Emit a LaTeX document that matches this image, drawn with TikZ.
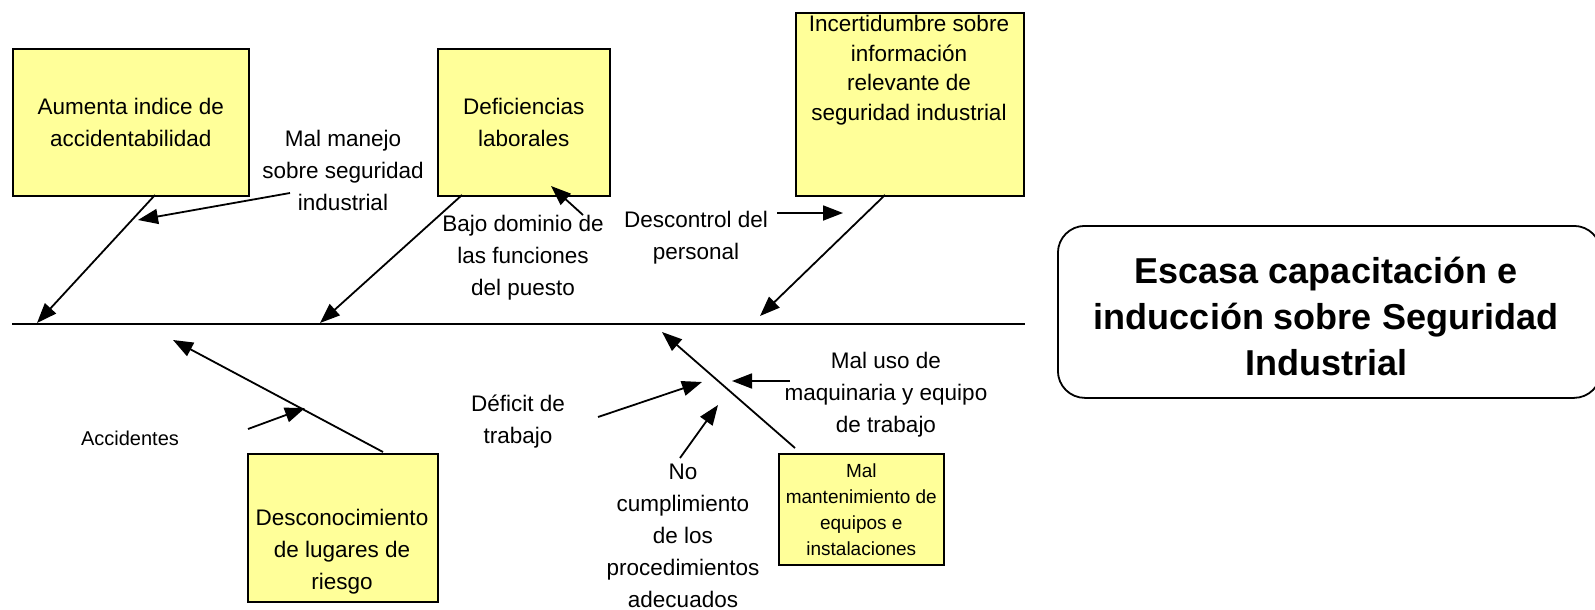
\documentclass[tikz,border=0pt]{standalone}
\usepackage{fontspec}
\setmainfont{Liberation Sans}
\usetikzlibrary{arrows.meta}
\definecolor{boxyellow}{RGB}{255,255,153}
\tikzset{
  ybox/.style={draw=black, line width=1.6pt, fill=boxyellow, inner sep=0pt, anchor=north west, align=center, font=\fontsize{22.5}{32}\selectfont},
  lab/.style={align=center, inner sep=0pt, font=\fontsize{22.5}{32}\selectfont},
  arr/.style={line width=1.8pt, -{Triangle[length=20pt,width=15pt]}},
  spine/.style={line width=1.8pt}
}
\begin{document}
\begin{tikzpicture}[x=1pt,y=-1pt]
\useasboundingbox (0,0) rectangle (1595,610);
% boxes
\node[ybox, minimum width=236, minimum height=147] (b1) at (12,48) {Aumenta indice de\\accidentabilidad};
\node[ybox, minimum width=172, minimum height=147] (b2) at (437,48) {Deficiencias\\laborales};
\node[ybox, minimum width=228, minimum height=183] (b3) at (795,12) {};
\node[lab, font=\fontsize{22.5}{29.5}\selectfont] (t3) at (909,70) {Incertidumbre sobre\\informaci\'on\\relevante de\\seguridad industrial};
\node[ybox, minimum width=190, minimum height=148] (b4) at (247,453) {};
\node[lab] (t4) at (342,552) {Desconocimiento\\de lugares de\\riesgo};
\node[ybox, minimum width=165, minimum height=111, font=\fontsize{19}{26}\selectfont] (b5) at (778,453) {Mal\\mantenimiento de\\equipos e\\instalaciones};
% main problem
\node[draw=black, line width=1.8pt, rounded corners=27pt, minimum width=543, minimum height=172, anchor=north west, inner sep=0pt] (main) at (1057,225) {};
\node[align=center, inner sep=0pt, font=\bfseries\fontsize{36}{46}\selectfont] (mt) at (1326,316) {Escasa capacitaci\'on e\\inducci\'on sobre Seguridad\\Industrial};
% labels
\node[lab] (l1) at (343,170) {Mal manejo\\sobre seguridad\\industrial};
\node[lab] (l2) at (523,258) {Bajo dominio de\\las funciones\\del puesto};
\node[lab] (l3) at (696,237.5) {Descontrol del\\personal};
\node[lab, font=\fontsize{20}{26}\selectfont] (l4) at (130,438) {Accidentes};
\node[lab] (l5) at (518,421.5) {D\'eficit de\\trabajo};
\node[lab] (l6) at (683,536) {No\\cumplimiento\\de los\\procedimientos\\adecuados};
\node[lab] (l7) at (886,395) {Mal uso de\\maquinaria y equipo\\de trabajo};
% spine
\coordinate (spL) at (12,324);
\coordinate (spR) at (1025,324);
\draw[spine] (spL) -- (spR);
% coordinates for connectors
\coordinate (a1s) at (155,195); \coordinate (a1e) at (37,323);
\coordinate (a2s) at (290,193); \coordinate (a2e) at (138,220);
\coordinate (a3s) at (462,195); \coordinate (a3e) at (320,323);
\coordinate (a4s) at (583,215); \coordinate (a4e) at (551,186);
\coordinate (a5s) at (777,213); \coordinate (a5e) at (843,213);
\coordinate (a6s) at (885,195); \coordinate (a6e) at (760,316);
\coordinate (a7s) at (383,452); \coordinate (a7e) at (173,340);
\coordinate (a8s) at (248,429); \coordinate (a8e) at (305,408);
\coordinate (a9s) at (795,448); \coordinate (a9e) at (662,332);
\coordinate (a10s) at (598,417); \coordinate (a10e) at (702,382);
\coordinate (a11s) at (680,458); \coordinate (a11e) at (718,405);
\coordinate (a12s) at (790,381); \coordinate (a12e) at (732,381);
\foreach \i in {1,...,12} {\draw[arr] (a\i s) -- (a\i e);}
\end{tikzpicture}
\end{document}
